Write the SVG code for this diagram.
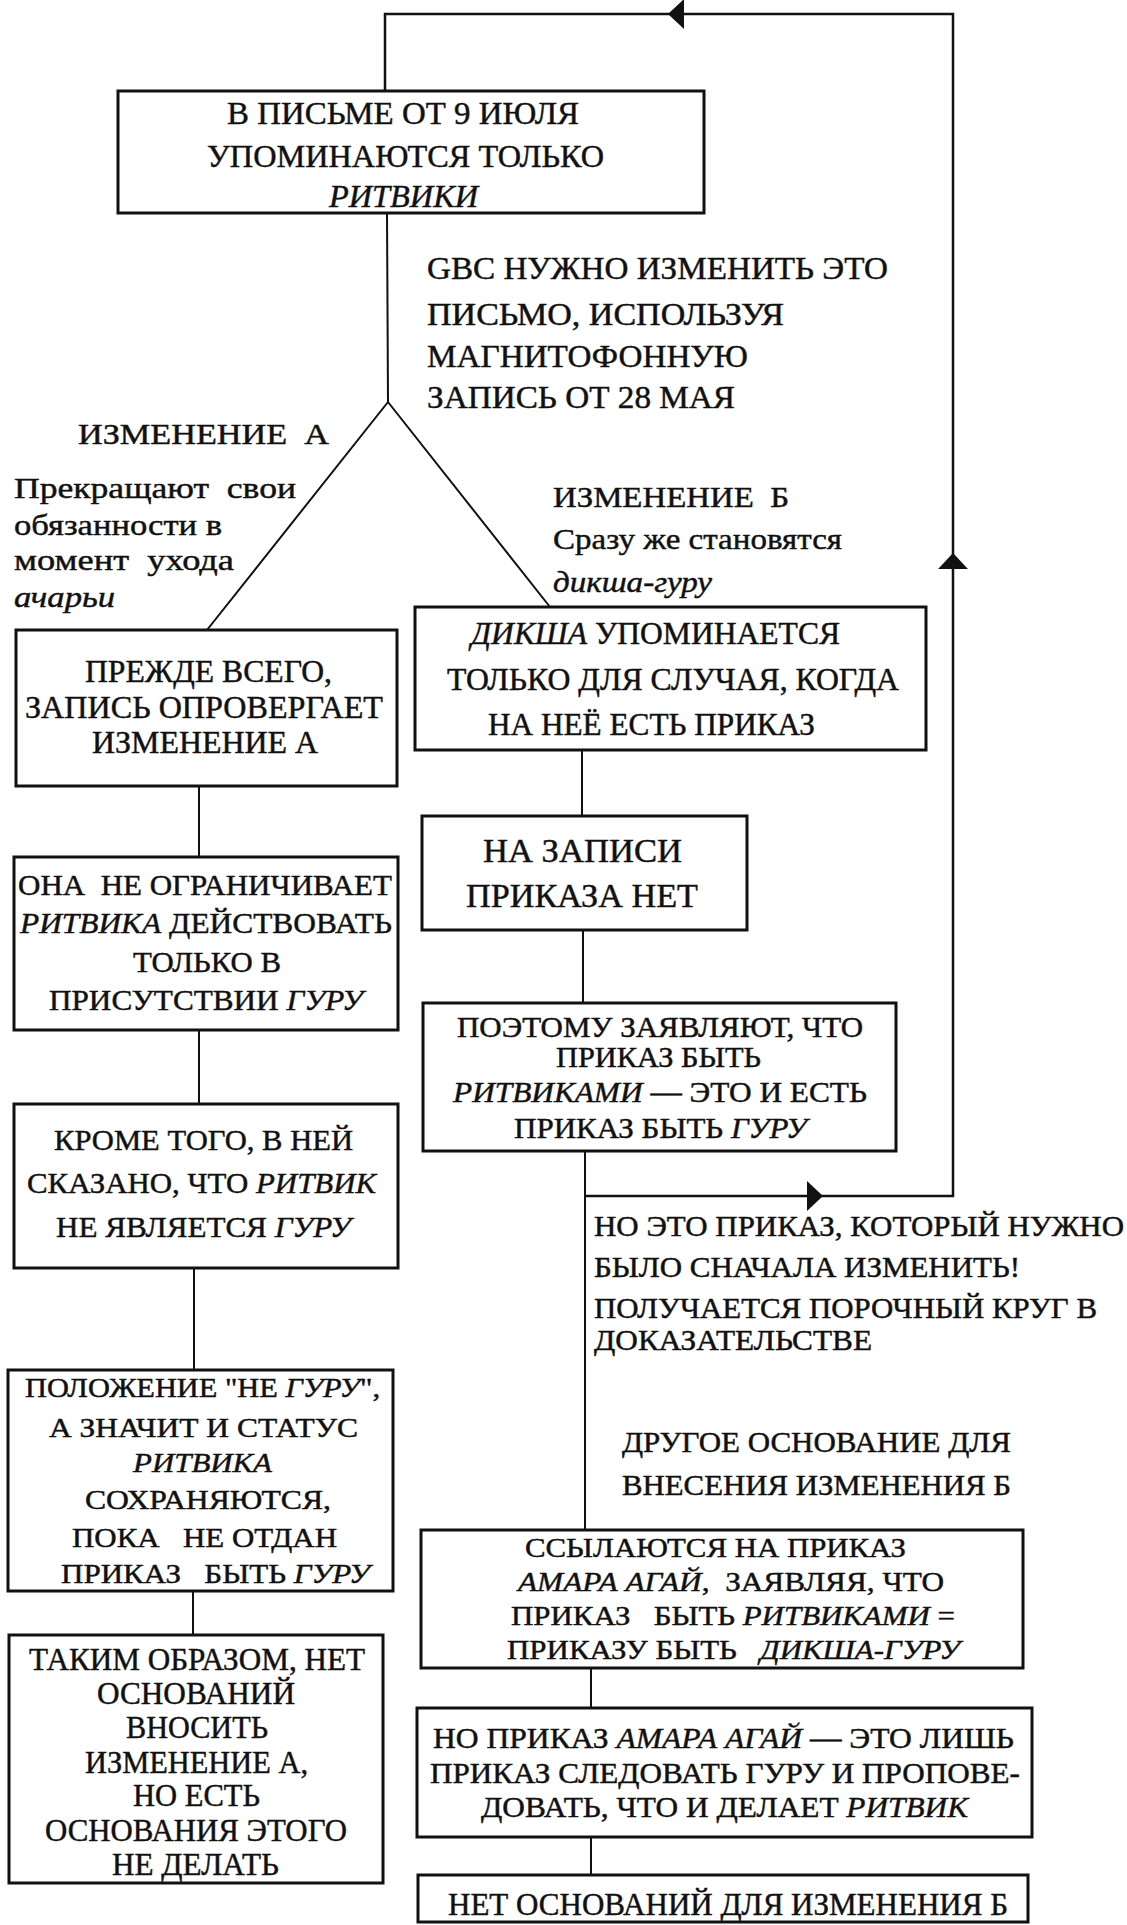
<svg xmlns="http://www.w3.org/2000/svg" width="1127" height="1925" viewBox="0 0 1127 1925">
<style>
text { font-family: "Liberation Serif", "Times New Roman", serif; fill: #111; stroke: #111; stroke-width: 0.45; }
.i { font-style: italic; }
.box { fill: #fff; stroke: #111; stroke-width: 3; }
.c { fill: none; stroke: #111; stroke-width: 2; }
.loop { fill: none; stroke: #111; stroke-width: 2.5; }
</style>
<defs>
<marker id="arr" markerUnits="userSpaceOnUse" markerWidth="16" markerHeight="30" viewBox="0 0 15 28" refX="15" refY="14" orient="auto">
<path d="M0,0 L15,14 L0,28 z" fill="#111"/>
</marker>
</defs>
<rect width="1127" height="1925" fill="#fff"/>

<g id="connectors">
<path class="c" d="M387 213 L388 402"/>
<path class="c" d="M207 630 L388 402 L550 607"/>
<path class="c" d="M199 786 V857"/>
<path class="c" d="M199 1030 V1104"/>
<path class="c" d="M194 1268 V1370"/>
<path class="c" d="M193 1591 V1635"/>
<path class="c" d="M582 750 V816"/>
<path class="c" d="M583 930 V1003"/>
<path class="c" d="M585 1151 V1530"/>
<path class="c" d="M591 1668 V1708"/>
<path class="c" d="M591 1837 V1875"/>
<path class="loop" d="M585 1196 H823" marker-end="url(#arr)"/>
<path class="loop" d="M823 1196 H953 V553" marker-end="url(#arr)"/>
<path class="loop" d="M953 553 V14 H668" marker-end="url(#arr)"/>
<path class="loop" d="M668 14 H385 V91"/>
</g>

<g id="n1">
<rect class="box" x="118" y="91" width="586" height="122"/>
<text x="227" y="124" font-size="32.5" textLength="352" lengthAdjust="spacingAndGlyphs">В ПИСЬМЕ ОТ 9 ИЮЛЯ</text>
<text x="207" y="167" font-size="32.5" textLength="397" lengthAdjust="spacingAndGlyphs">УПОМИНАЮТСЯ ТОЛЬКО</text>
<text class="i" x="329" y="207" font-size="32.5" textLength="149" lengthAdjust="spacingAndGlyphs">РИТВИКИ</text>
</g>

<g id="label-gbc">
<text x="427" y="279" font-size="31" textLength="461" lengthAdjust="spacingAndGlyphs">GBC НУЖНО ИЗМЕНИТЬ ЭТО</text>
<text x="427" y="325" font-size="31" textLength="357" lengthAdjust="spacingAndGlyphs">ПИСЬМО, ИСПОЛЬЗУЯ</text>
<text x="427" y="367" font-size="31" textLength="321" lengthAdjust="spacingAndGlyphs">МАГНИТОФОННУЮ</text>
<text x="427" y="408" font-size="31" textLength="308" lengthAdjust="spacingAndGlyphs">ЗАПИСЬ ОТ 28 МАЯ</text>
</g>

<g id="label-a">
<text x="78" y="444" font-size="30" textLength="251" lengthAdjust="spacingAndGlyphs" xml:space="preserve">ИЗМЕНЕНИЕ  А</text>
<text x="14" y="498" font-size="30" textLength="282" lengthAdjust="spacingAndGlyphs" xml:space="preserve">Прекращают  свои</text>
<text x="14" y="535" font-size="30" textLength="208" lengthAdjust="spacingAndGlyphs">обязанности в</text>
<text x="14" y="570" font-size="30" textLength="220" lengthAdjust="spacingAndGlyphs" xml:space="preserve">момент  ухода</text>
<text class="i" x="14" y="607" font-size="30" textLength="101" lengthAdjust="spacingAndGlyphs">ачарьи</text>
</g>

<g id="label-b">
<text x="553" y="507" font-size="30" textLength="236" lengthAdjust="spacingAndGlyphs" xml:space="preserve">ИЗМЕНЕНИЕ  Б</text>
<text x="553" y="549" font-size="30" textLength="289" lengthAdjust="spacingAndGlyphs">Сразу же становятся</text>
<text class="i" x="553" y="592" font-size="30" textLength="159" lengthAdjust="spacingAndGlyphs">дикша-гуру</text>
</g>

<g id="n2">
<rect class="box" x="16" y="630" width="381" height="156" stroke-width="3.5"/>
<text x="85" y="682" font-size="31" textLength="247" lengthAdjust="spacingAndGlyphs">ПРЕЖДЕ ВСЕГО,</text>
<text x="25" y="718" font-size="31" textLength="358" lengthAdjust="spacingAndGlyphs">ЗАПИСЬ ОПРОВЕРГАЕТ</text>
<text x="92" y="753" font-size="31" textLength="226" lengthAdjust="spacingAndGlyphs">ИЗМЕНЕНИЕ А</text>
</g>

<g id="n3">
<rect class="box" x="415" y="607" width="511" height="143" stroke-width="5"/>
<text x="471" y="644" font-size="30.5" textLength="369" lengthAdjust="spacingAndGlyphs"><tspan class="i">ДИКША</tspan> УПОМИНАЕТСЯ</text>
<text x="447" y="690" font-size="30.5" textLength="452" lengthAdjust="spacingAndGlyphs">ТОЛЬКО ДЛЯ СЛУЧАЯ, КОГДА</text>
<text x="488" y="735" font-size="30.5" textLength="327" lengthAdjust="spacingAndGlyphs">НА НЕЁ ЕСТЬ ПРИКАЗ</text>
</g>

<g id="n4">
<rect class="box" x="422" y="816" width="325" height="114"/>
<text x="483" y="862" font-size="33.5" textLength="199" lengthAdjust="spacingAndGlyphs">НА ЗАПИСИ</text>
<text x="466" y="907" font-size="33.5" textLength="232" lengthAdjust="spacingAndGlyphs">ПРИКАЗА НЕТ</text>
</g>

<g id="n5">
<rect class="box" x="423" y="1003" width="473" height="148"/>
<text x="457" y="1037" font-size="28.5" textLength="406" lengthAdjust="spacingAndGlyphs">ПОЭТОМУ ЗАЯВЛЯЮТ, ЧТО</text>
<text x="556" y="1067" font-size="28.5" textLength="205" lengthAdjust="spacingAndGlyphs">ПРИКАЗ БЫТЬ</text>
<text x="453" y="1102" font-size="28.5" textLength="414" lengthAdjust="spacingAndGlyphs"><tspan class="i">РИТВИКАМИ</tspan> — ЭТО И ЕСТЬ</text>
<text x="514" y="1138" font-size="28.5" textLength="293" lengthAdjust="spacingAndGlyphs">ПРИКАЗ БЫТЬ <tspan class="i">ГУРУ</tspan></text>
</g>

<g id="n6">
<rect class="box" x="14" y="857" width="384" height="173" stroke-width="3.5"/>
<text x="18" y="895" font-size="29.5" textLength="374" lengthAdjust="spacingAndGlyphs" xml:space="preserve">ОНА  НЕ ОГРАНИЧИВАЕТ</text>
<text x="20" y="933" font-size="29.5" textLength="372" lengthAdjust="spacingAndGlyphs"><tspan class="i">РИТВИКА</tspan> ДЕЙСТВОВАТЬ</text>
<text x="133" y="972" font-size="29.5" textLength="148" lengthAdjust="spacingAndGlyphs">ТОЛЬКО В</text>
<text x="49" y="1010" font-size="29.5" textLength="314" lengthAdjust="spacingAndGlyphs">ПРИСУТСТВИИ <tspan class="i">ГУРУ</tspan></text>
</g>

<g id="n7">
<rect class="box" x="14" y="1104" width="384" height="164"/>
<text x="54" y="1150" font-size="30" textLength="299" lengthAdjust="spacingAndGlyphs">КРОМЕ ТОГО, В НЕЙ</text>
<text x="27" y="1193" font-size="30" textLength="349" lengthAdjust="spacingAndGlyphs">СКАЗАНО, ЧТО <tspan class="i">РИТВИК</tspan></text>
<text x="56" y="1237" font-size="30" textLength="295" lengthAdjust="spacingAndGlyphs">НЕ ЯВЛЯЕТСЯ <tspan class="i">ГУРУ</tspan></text>
</g>

<g id="n8">
<rect class="box" x="8" y="1370" width="385" height="221" stroke-width="2.5"/>
<text x="25" y="1397" font-size="27.5" textLength="355" lengthAdjust="spacingAndGlyphs">ПОЛОЖЕНИЕ "НЕ <tspan class="i">ГУРУ</tspan>",</text>
<text x="49" y="1437" font-size="27.5" textLength="309" lengthAdjust="spacingAndGlyphs">А ЗНАЧИТ И СТАТУС</text>
<text class="i" x="133" y="1472" font-size="27.5" textLength="139" lengthAdjust="spacingAndGlyphs">РИТВИКА</text>
<text x="85" y="1509" font-size="27.5" textLength="246" lengthAdjust="spacingAndGlyphs">СОХРАНЯЮТСЯ,</text>
<text x="72" y="1547" font-size="27.5" textLength="265" lengthAdjust="spacingAndGlyphs" xml:space="preserve">ПОКА   НЕ ОТДАН</text>
<text x="61" y="1583" font-size="27.5" textLength="309" lengthAdjust="spacingAndGlyphs" xml:space="preserve">ПРИКАЗ   БЫТЬ <tspan class="i">ГУРУ</tspan></text>
</g>

<g id="n10">
<rect class="box" x="9" y="1635" width="374" height="248" stroke-width="4.5"/>
<text x="29" y="1670" font-size="31" textLength="336" lengthAdjust="spacingAndGlyphs">ТАКИМ ОБРАЗОМ, НЕТ</text>
<text x="97" y="1704" font-size="31" textLength="198" lengthAdjust="spacingAndGlyphs">ОСНОВАНИЙ</text>
<text x="126" y="1738" font-size="31" textLength="142" lengthAdjust="spacingAndGlyphs">ВНОСИТЬ</text>
<text x="85" y="1773" font-size="31" textLength="223" lengthAdjust="spacingAndGlyphs">ИЗМЕНЕНИЕ А,</text>
<text x="133" y="1806" font-size="31" textLength="127" lengthAdjust="spacingAndGlyphs">НО ЕСТЬ</text>
<text x="45" y="1841" font-size="31" textLength="302" lengthAdjust="spacingAndGlyphs">ОСНОВАНИЯ ЭТОГО</text>
<text x="112" y="1875" font-size="31" textLength="167" lengthAdjust="spacingAndGlyphs">НЕ ДЕЛАТЬ</text>
</g>

<g id="label-circle">
<text x="594" y="1236" font-size="28.5" textLength="530" lengthAdjust="spacingAndGlyphs">НО ЭТО ПРИКАЗ, КОТОРЫЙ НУЖНО</text>
<text x="594" y="1277" font-size="28.5" textLength="426" lengthAdjust="spacingAndGlyphs">БЫЛО СНАЧАЛА ИЗМЕНИТЬ!</text>
<text x="594" y="1318" font-size="28.5" textLength="503" lengthAdjust="spacingAndGlyphs">ПОЛУЧАЕТСЯ ПОРОЧНЫЙ КРУГ В</text>
<text x="594" y="1350" font-size="28.5" textLength="278" lengthAdjust="spacingAndGlyphs">ДОКАЗАТЕЛЬСТВЕ</text>
</g>

<g id="label-other">
<text x="622" y="1452" font-size="28.5" textLength="389" lengthAdjust="spacingAndGlyphs">ДРУГОЕ ОСНОВАНИЕ ДЛЯ</text>
<text x="622" y="1495" font-size="28.5" textLength="389" lengthAdjust="spacingAndGlyphs">ВНЕСЕНИЯ ИЗМЕНЕНИЯ Б</text>
</g>

<g id="n9">
<rect class="box" x="421" y="1530" width="602" height="138" stroke-width="3.5"/>
<text x="525" y="1557" font-size="28" textLength="381" lengthAdjust="spacingAndGlyphs">ССЫЛАЮТСЯ НА ПРИКАЗ</text>
<text x="518" y="1591" font-size="28" textLength="426" lengthAdjust="spacingAndGlyphs" xml:space="preserve"><tspan class="i">АМАРА АГАЙ</tspan>,  ЗАЯВЛЯЯ, ЧТО</text>
<text x="511" y="1625" font-size="28" textLength="444" lengthAdjust="spacingAndGlyphs" xml:space="preserve">ПРИКАЗ   БЫТЬ <tspan class="i">РИТВИКАМИ</tspan> =</text>
<text x="507" y="1659" font-size="28" textLength="453" lengthAdjust="spacingAndGlyphs" xml:space="preserve">ПРИКАЗУ БЫТЬ   <tspan class="i">ДИКША-ГУРУ</tspan></text>
</g>

<g id="n11">
<rect class="box" x="417" y="1708" width="615" height="129" stroke-width="3.5"/>
<text x="433" y="1748" font-size="28.5" textLength="581" lengthAdjust="spacingAndGlyphs">НО ПРИКАЗ <tspan class="i">АМАРА АГАЙ</tspan> — ЭТО ЛИШЬ</text>
<text x="430" y="1783" font-size="28.5" textLength="590" lengthAdjust="spacingAndGlyphs">ПРИКАЗ СЛЕДОВАТЬ ГУРУ И ПРОПОВЕ-</text>
<text x="481" y="1817" font-size="28.5" textLength="487" lengthAdjust="spacingAndGlyphs">ДОВАТЬ, ЧТО И ДЕЛАЕТ <tspan class="i">РИТВИК</tspan></text>
</g>

<g id="n12">
<rect class="box" x="418" y="1875" width="610" height="47"/>
<text x="448" y="1915" font-size="31" textLength="560" lengthAdjust="spacingAndGlyphs">НЕТ ОСНОВАНИЙ ДЛЯ ИЗМЕНЕНИЯ Б</text>
</g>
</svg>
